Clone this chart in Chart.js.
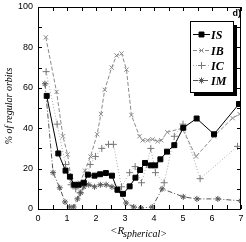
<!DOCTYPE html>
<html>
<head>
<meta charset="utf-8">
<script src="https://cdn.jsdelivr.net/npm/chart.js@4/dist/chart.umd.min.js"></script>
<style>
	html, body { margin: 0; padding: 0; background: #fff; }
</style>
</head>
<body>
<canvas id="orbitChart" width="246" height="242"></canvas>
<script>
///
///	Data
///

const isX = [0.3, 0.7, 0.95, 1.1, 1.25, 1.4, 1.58, 1.72, 1.95, 2.14, 2.34, 2.55, 2.74, 2.93, 3.16, 3.36, 3.52, 3.69, 3.89, 4.04, 4.22, 4.45, 4.7, 5.01, 5.47, 6.07, 6.93];
const isY = [56, 27.5, 19, 16, 12, 12, 13, 17, 16.5, 17.2, 17.8, 16.5, 9.5, 7.5, 11.2, 15.5, 19.3, 22.8, 21.6, 21.6, 24.6, 28.4, 31.6, 40.2, 44.8, 37, 52];

const ibX = [0.27, 0.64, 0.86, 1.02, 1.15, 1.3, 1.45, 1.62, 1.81, 2.04, 2.17, 2.3, 2.54, 2.71, 2.88, 3.05, 3.22, 3.5, 3.61, 3.78, 3.95, 4.12, 4.25, 4.46, 4.97, 5.45, 6.07, 6.71, 6.95];
const ibY = [85, 58, 36, 27, 14, 12, 13, 19, 26, 37, 47, 59, 70, 76, 77, 69, 46.5, 36, 34, 34, 34.5, 33.5, 34, 38, 40, 26, 36, 45, 47];

const icX = [0.28, 0.66, 0.95, 1.14, 1.3, 1.45, 1.6, 1.8, 1.98, 2.2, 2.43, 2.6, 2.88, 3.16, 3.35, 3.57, 3.75, 3.89, 4.05, 4.35, 4.7, 5.0, 5.59, 6.88];
const icY = [68, 42, 22, 12, 10, 8, 12, 22, 26, 30, 32, 32, 11, 18, 21, 13, 22, 30, 18, 13, 36, 42, 15, 31];

const imX = [0.24, 0.52, 0.75, 0.93, 1.09, 1.23, 1.36, 1.47, 1.58, 1.75, 1.95, 2.15, 2.35, 2.55, 2.72, 3.04, 3.3, 3.55, 3.94, 4.28, 5.01, 5.48, 6.2, 7.0];
const imY = [62, 18, 10.5, 3.5, 1, 1, 5, 8, 11, 12, 11, 12, 12, 11, 10, 3, 1, 0.5, 1, 10, 6, 5, 5, 4];

const seriesNames = ["IS", "IB", "IC", "IM"];
const xTicks = [0, 1, 2, 3, 4, 5, 6, 7];
const yTicks = [0, 20, 40, 60, 80, 100];

///
///	Helpers
///

// Pair up x and y arrays into Chart.js points
function toPoints(xs, ys) {
	return xs.map(function(x, i) { return {x: x, y: ys[i]}; });
}

const serifFont = '"Liberation Serif", "DejaVu Serif", serif';
const sansFont = '"Liberation Sans", Arial, sans-serif';

// Frame, inward ticks, legend, titles and panel tag
const decorPlugin = {
	id: 'decor',
	afterDraw: function(chart) {
		const ctx = chart.ctx;
		const a = chart.chartArea;
		const xs = chart.scales.x;
		const ys = chart.scales.y;

		ctx.save();
		ctx.strokeStyle = '#000';
		ctx.lineWidth = 1;
		ctx.setLineDash([]);
		ctx.strokeRect(Math.round(a.left) + 0.5, Math.round(a.top) + 0.5,
			Math.round(a.right - a.left) - 1, Math.round(a.bottom - a.top));

		// inward ticks
		ctx.beginPath();
		for (let v = 0; v <= 100; v += 10) {
			const py = Math.round(ys.getPixelForValue(v)) + 0.5;
			ctx.moveTo(a.left, py); ctx.lineTo(a.left + 4, py);
			ctx.moveTo(a.right, py); ctx.lineTo(a.right - 4, py);
		}
		for (let v = 0; v <= 7; v += 0.5) {
			const px = Math.round(xs.getPixelForValue(v)) + 0.5;
			ctx.moveTo(px, a.bottom); ctx.lineTo(px, a.bottom - 4);
			ctx.moveTo(px, a.top); ctx.lineTo(px, a.top + 4);
		}
		ctx.stroke();

		// panel tag
		ctx.fillStyle = '#000';
		ctx.font = 'bold 9px ' + sansFont;
		ctx.textAlign = 'right';
		ctx.textBaseline = 'alphabetic';
		ctx.fillText('d)', 241, 16);

		// legend box with shadow
		const bx = 190, by = 21, bw = 43, bh = 71;
		ctx.fillStyle = '#000';
		ctx.fillRect(bx + 4, by + 4, bw, bh);
		ctx.fillStyle = '#fff';
		ctx.fillRect(bx, by, bw, bh);
		ctx.strokeRect(bx + 0.5, by + 0.5, bw, bh);

		const rows = [34, 50, 65, 80];
		chart.data.datasets.forEach(function(ds, i) {
			const ly = rows[i] + 0.5;
			ctx.strokeStyle = ds.borderColor;
			ctx.setLineDash(ds.borderDash || []);
			ctx.beginPath();
			ctx.moveTo(193, ly); ctx.lineTo(210, ly);
			ctx.stroke();
			ctx.setLineDash([]);
			ctx.fillStyle = ds.pointBackgroundColor;
			ctx.strokeStyle = ds.pointBorderColor;
			ctx.lineWidth = 1;
			Chart.helpers.drawPoint(ctx, {
				pointStyle: ds.pointStyle, radius: ds.pointRadius, rotation: 0, borderWidth: 1
			}, 201.5, ly);
			ctx.fillStyle = '#000';
			ctx.font = 'italic bold 12px ' + serifFont;
			ctx.textAlign = 'left';
			ctx.textBaseline = 'middle';
			ctx.fillText(seriesNames[i], 211, ly + 1);
		});

		// y title
		ctx.fillStyle = '#000';
		ctx.save();
		ctx.translate(9, 106);
		ctx.rotate(-Math.PI / 2);
		ctx.font = 'italic 10px ' + serifFont;
		ctx.textAlign = 'center';
		ctx.textBaseline = 'middle';
		ctx.fillText('% of regular orbits', 0, 0);
		ctx.restore();

		// x title with subscript
		ctx.font = 'italic 11px ' + serifFont;
		ctx.textAlign = 'left';
		ctx.textBaseline = 'alphabetic';
		ctx.fillText('<R', 110, 234);
		ctx.font = 'italic 10px ' + serifFont;
		ctx.fillText('spherical>', 123, 237);
		ctx.restore();
	}
};

///
///	Chart
///

const orbitCanvas = document.getElementById("orbitChart");

const orbitChart = new Chart(orbitCanvas, {
	type: "line",
	data: {
		datasets: [{
			label: seriesNames[0],
			data: toPoints(isX, isY),
			borderColor: "#000000",
			borderWidth: 1,
			pointStyle: "rect",
			pointRadius: 3.5,
			pointBackgroundColor: "#000000",
			pointBorderColor: "#000000",
			pointBorderWidth: 1,
			order: 0
		},
		{
			label: seriesNames[1],
			data: toPoints(ibX, ibY),
			borderColor: "#8a8a8a",
			borderWidth: 1,
			borderDash: [4, 2],
			pointStyle: "crossRot",
			pointRadius: 3,
			pointBackgroundColor: "#8a8a8a",
			pointBorderColor: "#8a8a8a",
			pointBorderWidth: 1,
			order: 2
		},
		{
			label: seriesNames[2],
			data: toPoints(icX, icY),
			borderColor: "#a8a8a8",
			borderWidth: 1,
			borderDash: [1, 2],
			pointStyle: "cross",
			pointRadius: 3.5,
			pointBackgroundColor: "#777777",
			pointBorderColor: "#777777",
			pointBorderWidth: 1,
			order: 3
		},
		{
			label: seriesNames[3],
			data: toPoints(imX, imY),
			borderColor: "#555555",
			borderWidth: 1,
			borderDash: [5, 2, 1, 2],
			pointStyle: "star",
			pointRadius: 3,
			pointBackgroundColor: "#555555",
			pointBorderColor: "#555555",
			pointBorderWidth: 1,
			order: 1
		}]
	},
	options: {
		responsive: false,
		animation: false,
		devicePixelRatio: 1,
		layout: { padding: { top: 7, right: 3, left: 0, bottom: 0 } },
		plugins: {
			legend: { display: false },
			tooltip: { enabled: false }
		},
		elements: { line: { tension: 0, fill: false } },
		scales: {
			x: {
				type: "linear",
				min: 0,
				max: 7,
				afterBuildTicks: function(s) { s.ticks = xTicks.map(function(v) { return {value: v}; }); },
				afterFit: function(s) { s.height = 33; s.paddingLeft = 0; s.paddingRight = 0; },
				grid: { display: false, drawTicks: false },
				border: { display: false },
				ticks: { color: "#000", font: { family: sansFont, size: 9 }, padding: 4, maxRotation: 0 }
			},
			y: {
				type: "linear",
				min: 0,
				max: 100,
				afterBuildTicks: function(s) { s.ticks = yTicks.map(function(v) { return {value: v}; }); },
				afterFit: function(s) { s.width = 38; s.paddingTop = 0; s.paddingBottom = 0; },
				grid: { display: false, drawTicks: false },
				border: { display: false },
				ticks: { color: "#000", font: { family: sansFont, size: 9 }, padding: 5 }
			}
		}
	},
	plugins: [decorPlugin]
});
</script>
</body>
</html>
